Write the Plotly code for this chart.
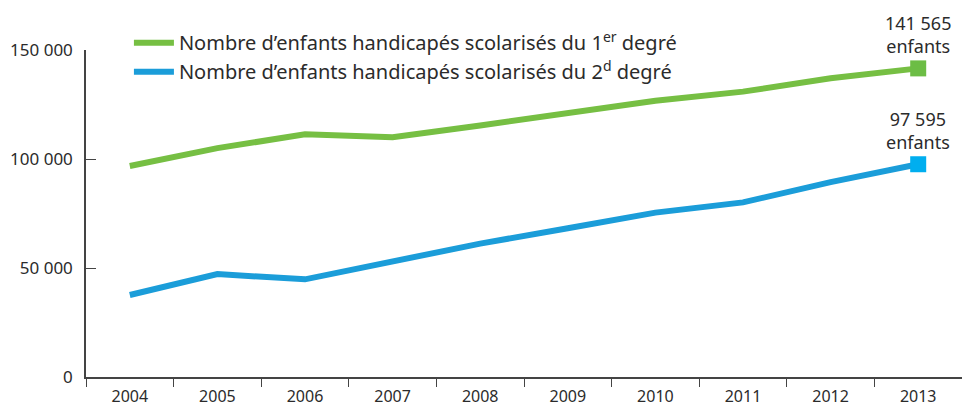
import plotly.graph_objects as go

years = ["2004", "2005", "2006", "2007", "2008", "2009", "2010", "2011", "2012", "2013"]
premier_degre = [96800, 105000, 111300, 110000, 115400, 121000, 126700, 130900, 137000, 141565]
second_degre = [37600, 47200, 44800, 53000, 61200, 68200, 75400, 80100, 89400, 97595]
end_labels = ["141 565<br>enfants", "97 595<br>enfants"]
y_ticks = [0, 50000, 100000, 150000]
y_tick_labels = ["0", "50 000", "100 000", "150 000"]

names = ["Nombre d’enfants handicapés scolarisés du 1<sup>er</sup> degré",
         "Nombre d’enfants handicapés scolarisés du 2<sup>d</sup> degré"]
line_colors = ["#76bf43", "#1b9dd9"]
marker_colors = ["#6cbd45", "#00aeef"]
FONT = "Noto Sans"
TXT = "#2b2b2b"

fig = go.Figure()
for vals, name, lc in zip([premier_degre, second_degre], names, line_colors):
    fig.add_trace(go.Scatter(x=years, y=vals, mode="lines", name=name,
                             line=dict(color=lc, width=6)))
last = len(years) - 1
for vals, mc, lab in zip([premier_degre, second_degre], marker_colors, end_labels):
    fig.add_trace(go.Scatter(x=[years[last]], y=[vals[last]], mode="markers", showlegend=False,
                             marker=dict(symbol="square", size=16, color=mc),
                             cliponaxis=False))
    fig.add_annotation(x=last, y=vals[last], xref="x", yref="y", text=lab, showarrow=False,
                       yanchor="bottom", yshift=8, align="center",
                       font=dict(family=FONT, size=18, color=TXT))

fig.update_layout(
    width=962, height=408,
    margin=dict(l=86, r=0, t=50, b=31, autoexpand=False),
    paper_bgcolor="white", plot_bgcolor="white",
    font=dict(family=FONT, size=16, color=TXT),
    showlegend=True,
    legend=dict(x=0.049, y=1.082, xanchor="left", yanchor="top",
                bgcolor="rgba(0,0,0,0)", font=dict(size=20, color=TXT),
                tracegroupgap=0, itemwidth=40),
    xaxis=dict(type="category", range=[-0.5, 9.5], showgrid=False, zeroline=False,
               showline=True, linecolor="#444", linewidth=1.5,
               ticks="outside", ticklen=8, tickcolor="#444", tickson="boundaries",
               ticklabelstandoff=4, tickfont=dict(size=16)),
    yaxis=dict(range=[0, 150000], showgrid=False, zeroline=False,
               showline=True, linecolor="#444", linewidth=1.5,
               ticks="inside", ticklen=10, tickcolor="#444",
               tickvals=y_ticks, ticktext=y_tick_labels, ticklabelstandoff=8,
               tickfont=dict(size=17)),
)

fig.write_html("out.html", config={"displayModeBar": False},
               post_script="document.body.style.margin='0';document.body.style.overflow='hidden';")
